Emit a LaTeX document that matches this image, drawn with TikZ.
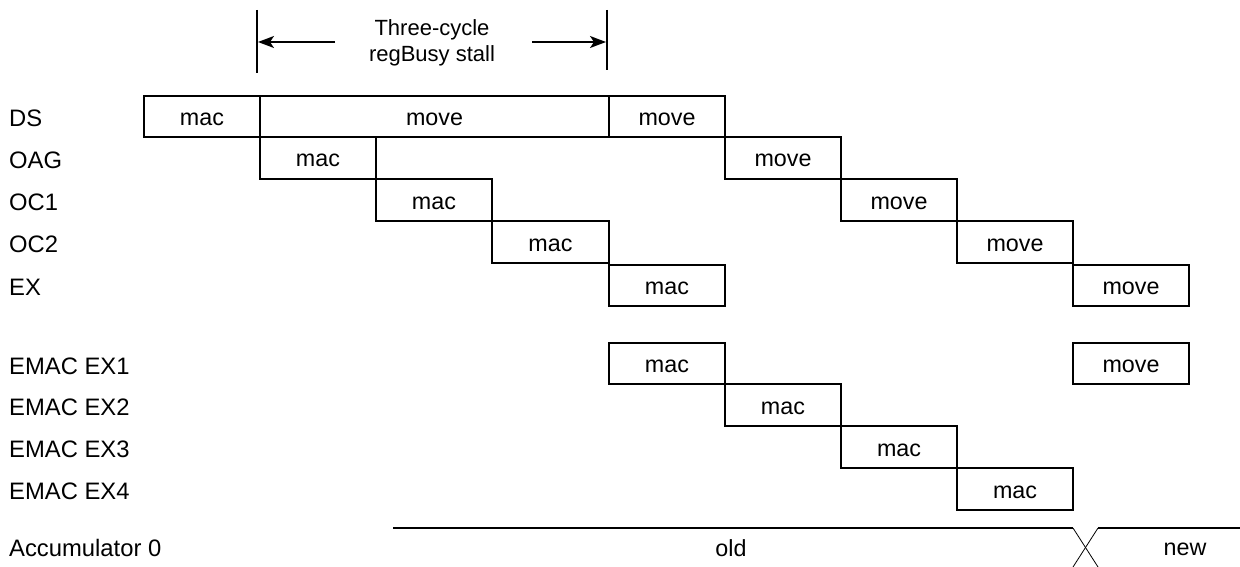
\documentclass[tikz,border=0pt]{standalone}
\usepackage{fontspec}
\setmainfont{Liberation Sans}
\usetikzlibrary{arrows.meta}
\newcommand\mkcell[6]{%
  \node[cell, minimum width={(#3-#2)*1pt}, minimum height={(#5-#4)*1pt}]
    (#1) at ({(#2+#3)/2},{(#4+#5)/2}) {#6};}
\begin{document}
\begin{tikzpicture}[x=1pt,y=-1pt,
  cell/.style={draw, line width=1.6pt, inner sep=0pt,
    font=\fontsize{23.3}{27}\selectfont, text height=20pt, text depth=2pt},
  lbl/.style={anchor=base west, inner sep=0pt, font=\fontsize{23.8}{27}\selectfont},
  note/.style={anchor=base, inner sep=0pt, font=\fontsize{22}{26}\selectfont},
  bar/.style={line width=1.6pt},
  arr/.style={line width=1.6pt, -{Stealth[length=16pt,width=12pt,inset=4pt]}},
  sig/.style={line width=1.8pt},
  cross/.style={line width=0.8pt}]
\useasboundingbox (0,0) rectangle (1240,567);

% row labels
\node[lbl] (lDS)  at (9,126.5) {DS};
\node[lbl] (lOAG) at (9,168) {OAG};
\node[lbl] (lOC1) at (9,210) {OC1};
\node[lbl] (lOC2) at (9,252) {OC2};
\node[lbl] (lEX)  at (9,295.5) {EX};
\node[lbl] (lE1)  at (9,374) {EMAC EX1};
\node[lbl] (lE2)  at (9,415) {EMAC EX2};
\node[lbl] (lE3)  at (9,457) {EMAC EX3};
\node[lbl] (lE4)  at (9,499) {EMAC EX4};
\node[lbl] (lACC) at (9,556.5) {Accumulator 0};

% DS
\mkcell{ds1}{144}{260}{96}{137}{mac}
\mkcell{ds2}{260}{609}{96}{137}{move}
\mkcell{ds3}{609}{725}{96}{137}{move}
% OAG
\mkcell{oag1}{260}{376}{137}{179}{mac}
\mkcell{oag2}{725}{841}{137}{179}{move}
% OC1
\mkcell{oc11}{376}{492}{179}{221}{mac}
\mkcell{oc12}{841}{957}{179}{221}{move}
% OC2
\mkcell{oc21}{492}{609}{221}{263}{mac}
\mkcell{oc22}{957}{1073}{221}{263}{move}
% EX
\mkcell{ex1}{609}{725}{265}{306}{mac}
\mkcell{ex2}{1073}{1189}{265}{306}{move}
% EMAC
\mkcell{e11}{609}{725}{343}{384}{mac}
\mkcell{e12}{1073}{1189}{343}{384}{move}
\mkcell{e2}{725}{841}{384}{426}{mac}
\mkcell{e3}{841}{957}{426}{468}{mac}
\mkcell{e4}{957}{1073}{468}{510}{mac}

% stall annotation
\coordinate (bl1) at (257,10);
\coordinate (bl2) at (257,73);
\coordinate (br1) at (607,10);
\coordinate (br2) at (607,70);
\draw[bar] (bl1) -- (bl2);
\draw[bar] (br1) -- (br2);
\coordinate (al0) at (335,42);
\coordinate (al1) at (258,42);
\coordinate (ar0) at (532,42);
\coordinate (ar1) at (606,42);
\draw[arr] (al0) -- (al1);
\draw[arr] (ar0) -- (ar1);
\node[note] (t1) at (432,36) {Three-cycle};
\node[note] (t2) at (432,62) {regBusy stall};

% accumulator signal
\coordinate (o0) at (393,528);
\coordinate (o1) at (1073,528);
\coordinate (o2) at (1098,567);
\coordinate (n0) at (1098,528);
\coordinate (n1) at (1240,528);
\coordinate (n2) at (1073,567);
\draw[sig] (o0) -- (o1);
\draw[sig] (n0) -- (n1);
\draw[cross] (o1) -- (o2);
\draw[cross] (n0) -- (n2);
\node[note, font=\fontsize{23.3}{27}\selectfont] (old) at (731,556.5) {old};
\node[note, font=\fontsize{23.3}{27}\selectfont] (new) at (1185,555) {new};
\end{tikzpicture}
\end{document}
